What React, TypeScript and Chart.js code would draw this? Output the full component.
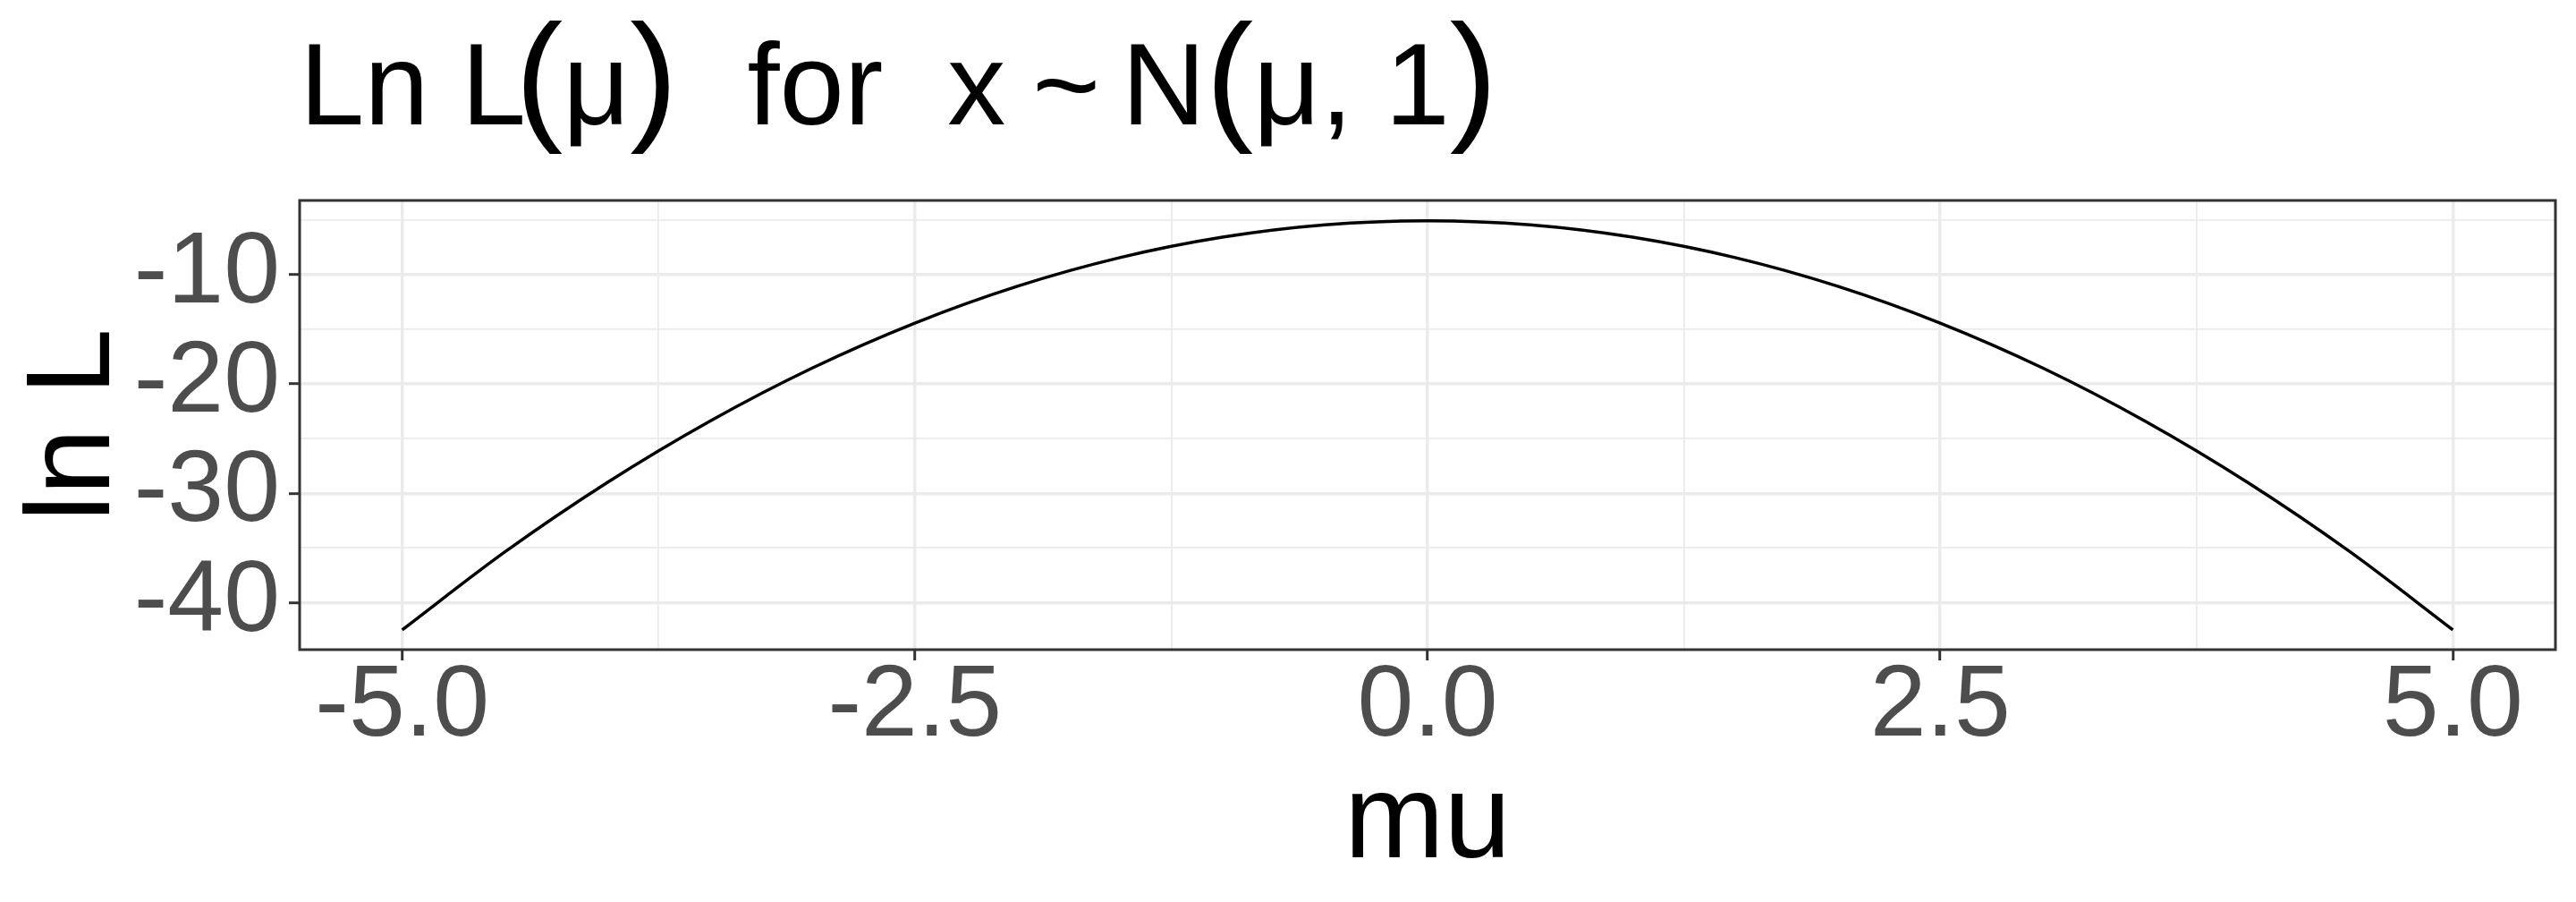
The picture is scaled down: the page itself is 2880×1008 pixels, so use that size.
import React, { useEffect, useRef } from 'react';
import { Chart, registerables } from 'chart.js';

Chart.register(...registerables);

// ---- data ----
const muValues = [-5, -4.5, -4, -3.5, -3, -2.5, -2, -1.5, -1, -0.5, 0, 0.5, 1, 1.5, 2, 2.5, 3, 3.5, 4, 4.5, 5];
const lnLValues = [-42.5, -35.38, -29.02, -23.41, -18.54, -14.43, -11.06, -8.44, -6.57, -5.44, -5.07, -5.44, -6.57, -8.44, -11.06, -14.43, -18.54, -23.41, -29.02, -35.38, -42.5];

const xMajorTicks = [-5, -2.5, 0, 2.5, 5];
const xMinorTicks = [-3.75, -1.25, 1.25, 3.75];
const xTickLabels = ['-5.0', '-2.5', '0.0', '2.5', '5.0'];

const yMajorTicks = [-10, -20, -30, -40];
const yMinorTicks = [-5, -15, -25, -35];
const yTickLabels = ['-10', '-20', '-30', '-40'];

const titleParts = ['Ln L', '(', 'μ', ')', 'for', 'x', '~', 'N', '(', 'μ, 1', ')'];
const xAxisTitle = 'mu';
const yAxisTitle = 'ln L';

// ---- style ----
const FONT = '"Liberation Sans", Arial, Helvetica, sans-serif';
const titleSizes = [130, 160, 130, 160, 130, 130, 130, 130, 160, 130, 160];
const titleGaps = [0, -12, 0, 0, 78, 72, 30, 24, 0, 0, 0];

const ggPlugin = {
  id: 'ggDecor',
  afterDatasetsDraw(chart: any) {
    const { ctx, chartArea: a } = chart;
    ctx.save();
    ctx.strokeStyle = '#333333';
    ctx.lineWidth = 3;
    ctx.strokeRect(a.left, a.top, a.right - a.left, a.bottom - a.top);
    ctx.restore();
  },
  afterDraw(chart: any) {
    const { ctx, chartArea: a } = chart;
    ctx.save();
    ctx.fillStyle = '#000000';
    ctx.textBaseline = 'alphabetic';
    ctx.textAlign = 'left';
    // title
    let x = a.left;
    const baseY = 139;
    titleParts.forEach((t, i) => {
      x += titleGaps[i];
      ctx.font = `${titleSizes[i]}px ${FONT}`;
      ctx.fillText(t, x, baseY);
      x += ctx.measureText(t).width;
    });
    // x axis title
    ctx.font = `134px ${FONT}`;
    ctx.textAlign = 'center';
    ctx.fillText(xAxisTitle, (a.left + a.right) / 2, 958);
    // y axis title
    ctx.translate(122, (a.top + a.bottom) / 2);
    ctx.rotate(-Math.PI / 2);
    ctx.fillText(yAxisTitle, 0, 0);
    ctx.restore();
  },
};

const isIn = (arr: number[], v: number) => arr.some((m) => Math.abs(m - v) < 1e-9);

export default function App() {
  const ref = useRef<HTMLCanvasElement | null>(null);
  useEffect(() => {
    document.body.style.margin = '0';
    document.body.style.overflow = 'hidden';
    const canvas = ref.current!;
    const chart = new Chart(canvas, {
      type: 'line',
      data: {
        datasets: [
          {
            data: muValues.map((m, i) => ({ x: m, y: lnLValues[i] })),
            borderColor: '#000000',
            borderWidth: 3.5,
            pointRadius: 0,
            fill: false,
            cubicInterpolationMode: 'monotone',
          },
        ],
      },
      options: {
        animation: false,
        responsive: false,
        devicePixelRatio: 1,
        layout: { padding: { top: 224, right: 23, left: 0, bottom: 0 } },
        plugins: { legend: { display: false }, title: { display: false }, tooltip: { enabled: false } },
        scales: {
          x: {
            type: 'linear',
            min: -5.5,
            max: 5.5,
            afterBuildTicks: (s: any) => {
              s.ticks = [...xMajorTicks, ...xMinorTicks].sort((p, q) => p - q).map((v) => ({ value: v }));
            },
            afterFit: (s: any) => {
              s.height = 282;
            },
            border: { display: false },
            grid: {
              color: '#EBEBEB',
              lineWidth: (c: any) => (c.tick && isIn(xMajorTicks, c.tick.value) ? 3.4 : 1.8),
              drawTicks: true,
              tickLength: 12,
              tickWidth: 3,
              tickColor: (c: any) => (c.tick && isIn(xMajorTicks, c.tick.value) ? '#333333' : 'rgba(0,0,0,0)'),
            },
            ticks: {
              autoSkip: false,
              maxRotation: 0,
              minRotation: 0,
              padding: 2,
              color: '#4D4D4D',
              font: { family: FONT, size: 113, lineHeight: 0.9 },
              callback: (v: any) => {
                const i = xMajorTicks.findIndex((m) => Math.abs(m - Number(v)) < 1e-9);
                return i >= 0 ? xTickLabels[i] : '';
              },
            },
          },
          y: {
            type: 'linear',
            min: -44.31,
            max: -3.21,
            afterBuildTicks: (s: any) => {
              s.ticks = [...yMajorTicks, ...yMinorTicks].sort((p, q) => p - q).map((v) => ({ value: v }));
            },
            afterFit: (s: any) => {
              s.width = 335;
            },
            border: { display: false },
            grid: {
              color: '#EBEBEB',
              lineWidth: (c: any) => (c.tick && isIn(yMajorTicks, c.tick.value) ? 3.4 : 1.8),
              drawTicks: true,
              tickLength: 12,
              tickWidth: 3,
              tickColor: (c: any) => (c.tick && isIn(yMajorTicks, c.tick.value) ? '#333333' : 'rgba(0,0,0,0)'),
            },
            ticks: {
              autoSkip: false,
              padding: 10,
              color: '#4D4D4D',
              font: { family: FONT, size: 113 },
              callback: (v: any) => {
                const i = yMajorTicks.findIndex((m) => Math.abs(m - Number(v)) < 1e-9);
                return i >= 0 ? yTickLabels[i] : '';
              },
            },
          },
        },
      },
      plugins: [ggPlugin],
    } as any);
    return () => chart.destroy();
  }, []);

  return (
    <div style={{ width: 2880, height: 1008, background: '#ffffff' }}>
      <canvas ref={ref} width={2880} height={1008} style={{ width: 2880, height: 1008, display: 'block' }} />
    </div>
  );
}
